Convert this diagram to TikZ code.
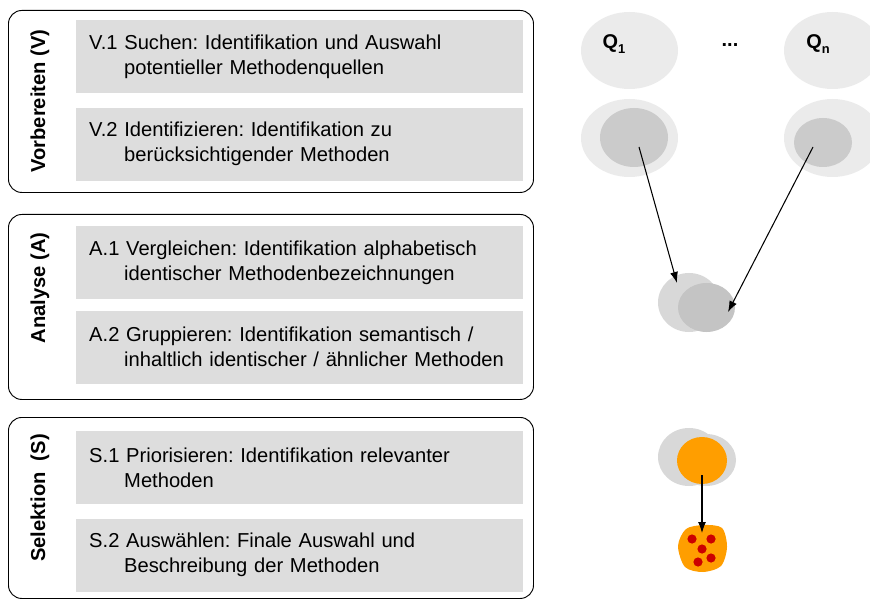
\documentclass[tikz,border=0pt]{standalone}
\usepackage{fontspec}
\setmainfont{Liberation Sans}
\usetikzlibrary{shapes.geometric,arrows.meta,positioning}
\frenchspacing

\definecolor{taskgray}{RGB}{221,221,221}
\definecolor{poollight}{RGB}{235,235,235}
\definecolor{pooldark}{RGB}{203,203,203}
\definecolor{mergelight}{RGB}{216,216,216}
\definecolor{mergedark}{RGB}{196,196,196}
\definecolor{selorange}{RGB}{255,158,0}
\definecolor{seldot}{RGB}{204,0,0}

\tikzset{
  phase/.style={draw, rounded corners=0.4cm, line width=0.8pt, anchor=north west,
    minimum width=15.75cm, inner sep=0pt},
  phaselabel/.style={rotate=90, font=\bfseries\fontsize{17.2}{20}\selectfont},
  task/.style={fill=taskgray, anchor=north west, text width=12.63cm, minimum height=2.19cm,
    inner xsep=0.39cm, inner ysep=0pt, align=left, font=\fontsize{17.2}{21.3}\selectfont},
  pool/.style={ellipse, fill=poollight, inner sep=0pt},
  poolin/.style={ellipse, fill=pooldark, inner sep=0pt},
  qlabel/.style={font=\bfseries\fontsize{17}{20}\selectfont, inner sep=0pt},
  flow/.style={line width=0.9pt, -{Latex[length=0.33cm,width=0.24cm]}}
}

\newcommand{\tasktext}[2]{#1\\\hspace*{1.05cm}#2}
\newcommand{\qsub}[1]{\raisebox{-0.45ex}{\fontsize{11}{12}\selectfont #1}}

\begin{document}
\begin{tikzpicture}[x=0.03cm, y=-0.03cm]
  \useasboundingbox (0,0) rectangle (870,599);

  % phases
  \node[phase, minimum height=5.46cm] (vbox) at (8,10) {};
  \node[phase, minimum height=5.55cm] (abox) at (8,214) {};
  \node[phase, minimum height=5.43cm] (sbox) at (8,417) {};

  \node[phaselabel] (vlabel) at (40,101) {Vorbereiten (V)};
  \node[phaselabel] (alabel) at (40,288) {Analyse (A)};
  \node[phaselabel] (slabel) at (40,498) {Selektion\ \ (S)};

  % tasks
  \node[task] (v1) at (76,20) {\tasktext{V.1 Suchen: Identifikation und Auswahl}{potentieller Methodenquellen}};
  \node[task, below=0.42cm of v1.south west, anchor=north west] (v2) {\tasktext{V.2 Identifizieren: Identifikation zu}{berücksichtigender Methoden}};
  \node[task] (a1) at (76,226) {\tasktext{A.1 Vergleichen: Identifikation alphabetisch}{identischer Methodenbezeichnungen}};
  \node[task, below=0.33cm of a1.south west, anchor=north west] (a2) {\tasktext{A.2 Gruppieren: Identifikation semantisch /}{inhaltlich identischer / ähnlicher Methoden}};
  \node[task] (s1) at (76,431) {\tasktext{S.1 Priorisieren: Identifikation relevanter}{Methoden}};
  \node[task, below=0.42cm of s1.south west, anchor=north west] (s2) {\tasktext{S.2 Auswählen: Finale Auswahl und}{Beschreibung der Methoden}};

  % sources
  \node[pool, minimum width=2.91cm, minimum height=2.31cm] (q1) at (629.5,50.5) {};
  \node[pool, minimum width=2.91cm, minimum height=2.31cm] (qn) at (832.5,50.5) {};
  \node[qlabel] (q1lab) at (614,44) {Q\qsub{1}};
  \node[qlabel] (dots) at (730,45) {...};
  \node[qlabel] (qnlab) at (818,44) {Q\qsub{n}};

  \node[pool, minimum width=2.91cm, minimum height=2.34cm] (q1out) at (629.5,138) {};
  \node[poolin, minimum width=2.04cm, minimum height=1.77cm] (q1in) at (634,137.5) {};
  \node[pool, minimum width=2.91cm, minimum height=2.34cm] (qnout) at (832.5,138) {};
  \node[poolin, minimum width=1.74cm, minimum height=1.47cm] (qnin) at (823,142.5) {};

  % merged
  \node[ellipse, fill=mergelight, minimum width=1.86cm, minimum height=1.77cm] (mlight) at (689,302.5) {};
  \node[ellipse, fill=mergedark, minimum width=1.71cm, minimum height=1.47cm] (mdark) at (706.5,307.5) {};

  % selected
  \node[ellipse, fill=mergelight, minimum width=1.86cm, minimum height=1.74cm] (slight) at (689,457) {};
  \node[ellipse, fill=mergelight, minimum width=1.8cm, minimum height=1.56cm] (slight2) at (706,460) {};
  \node[ellipse, fill=selorange, minimum width=1.5cm, minimum height=1.41cm] (sel) at (702,460.5) {};

  \fill[selorange] plot[smooth cycle] coordinates {(678,546) (686,529) (704,525) (722,528) (727,547) (721,566) (703,572) (685,567)};
  \coordinate (result) at (702,548);
  \foreach \p in {(692,539),(711,539),(702,549),(698,562),(711,558)}
    \fill[seldot] \p circle (4.6);

  % connectors
  \coordinate (q1src) at (639,147);
  \coordinate (qnsrc) at (813,147);
  \coordinate (q1tip) at (677,283);
  \coordinate (qntip) at (728,312);
  \coordinate (seltip) at (702,533);
  \draw[flow] (q1src) -- (q1tip);
  \draw[flow] (qnsrc) -- (qntip);
  \draw[flow] (702,475) -- (seltip);

\end{tikzpicture}
\end{document}
